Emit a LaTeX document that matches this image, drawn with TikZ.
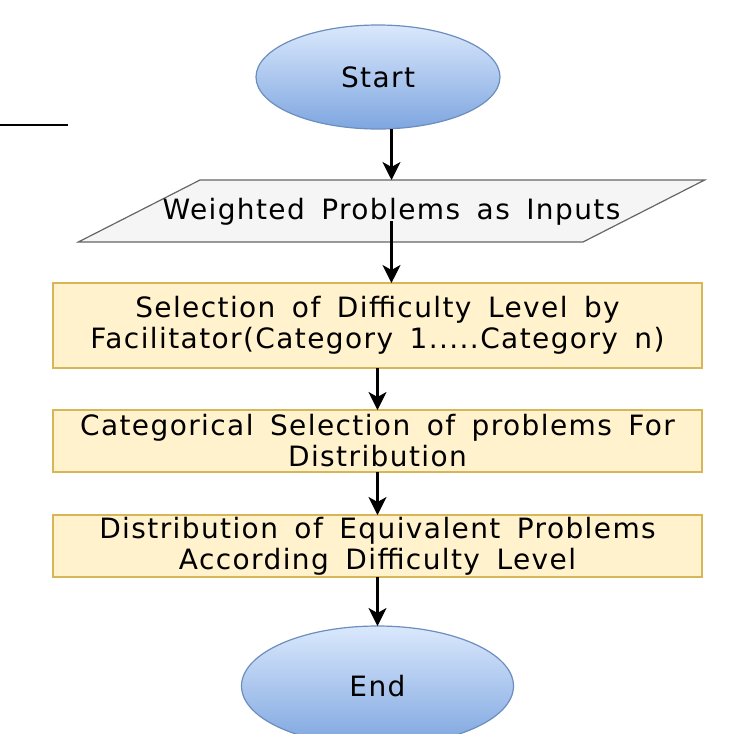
\documentclass[tikz,border=0pt]{standalone}
\usepackage{fontspec}
\setmainfont{DejaVu Sans}[LetterSpace=5, WordSpace=1.6]
\usepackage{tikz}
\usetikzlibrary{shapes.geometric, arrows, arrows.meta, positioning}

\definecolor{termTop}{HTML}{DAE8FC}
\definecolor{termBot}{HTML}{7EA6E0}
\definecolor{termLine}{HTML}{6C8EBF}
\definecolor{ioFill}{HTML}{F5F5F5}
\definecolor{ioLine}{HTML}{666666}
\definecolor{procFill}{HTML}{FFF2CC}
\definecolor{procLine}{HTML}{D6B656}

\begin{document}
\begin{tikzpicture}[node distance=21pt, auto,
    every node/.style={outer sep=0pt, font=\fontsize{14}{15.5}\selectfont},
    terminal/.style={ellipse, draw=termLine, line width=0.6pt, top color=termTop, bottom color=termBot},
    io/.style={trapezium, trapezium left angle=27, trapezium right angle=153, draw=ioLine, fill=ioFill, line width=0.6pt, inner sep=0pt, text height=19.6pt, text depth=11.4pt},
    block/.style={rectangle, draw=procLine, fill=procFill, line width=1pt, minimum width=324.5pt, align=center, inner sep=0pt},
    arrow/.style={line width=1.2pt,->,>={Stealth[length=9pt,width=9pt,inset=2.5pt]}}]

    \useasboundingbox (0,0) rectangle (366pt,-367pt);

    \node [terminal, minimum width=122pt, minimum height=52pt] (start) at (189pt,-38.5pt) {Start};
    \node [io, below=25.5pt of start, xshift=6.75pt] (inputs) {\makebox[191.5pt]{Weighted Problems as Inputs}};
    \node [block, minimum height=42.5pt, below=20.5pt of inputs, xshift=-7pt] (level) {Selection of Difficulty Level by\\Facilitator(Category 1.....Category n)};
    \node [block, minimum height=31pt, below=21pt of level] (select) {Categorical Selection of problems For\\Distribution};
    \node [block, minimum height=31pt, below=21.5pt of select] (distrib) {Distribution of Equivalent Problems\\According Difficulty Level};
    \node [terminal, minimum width=136pt, minimum height=60pt, below=24.5pt of distrib] (end) {End};

    \coordinate (stub west) at (0,-62.5pt);
    \coordinate (stub east) at (34pt,-62.5pt);
    \draw [line width=1pt] (stub west) -- (stub east);

    \draw [arrow] (inputs.north |- start.south) -- (inputs.north);
    \draw [arrow] ([yshift=-5pt]inputs.center) -- (inputs.center |- level.north);
    \draw [arrow] (level) -- (select);
    \draw [arrow] (select) -- (distrib);
    \draw [arrow] (distrib) -- (end);
\end{tikzpicture}
\end{document}
